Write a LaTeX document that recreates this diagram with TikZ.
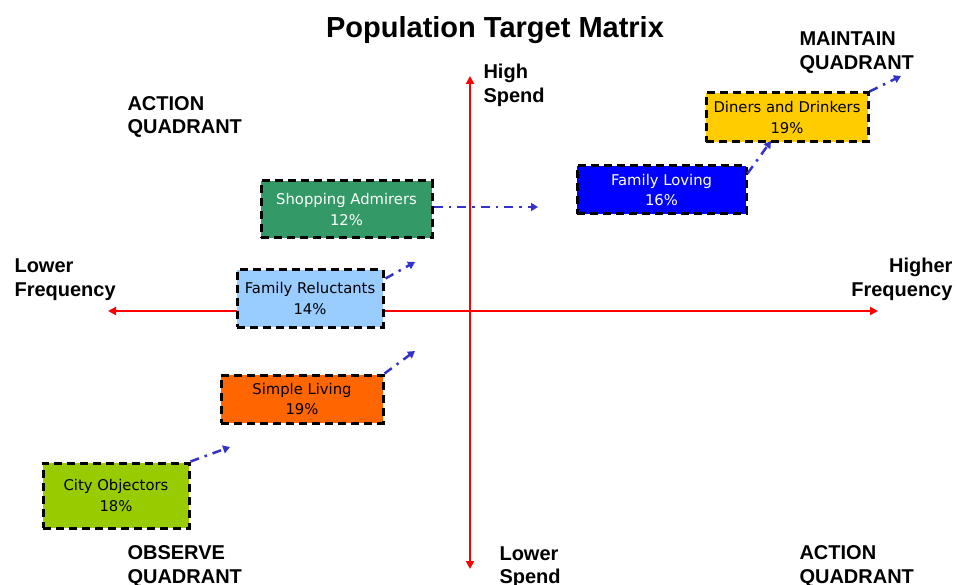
\documentclass[tikz,border=0pt]{standalone}
\usepackage{fontspec}
\usetikzlibrary{arrows.meta}
\newfontfamily\boxfont{DejaVu Sans}
\newfontfamily\labfont{Liberation Sans}
\definecolor{axisred}{RGB}{255,0,0}
\definecolor{flowblue}{RGB}{51,51,204}
\definecolor{segGreen}{RGB}{51,153,102}
\definecolor{segSky}{RGB}{153,204,255}
\definecolor{segOrange}{RGB}{255,102,0}
\definecolor{segLime}{RGB}{153,204,0}
\definecolor{segBlue}{RGB}{0,0,255}
\definecolor{segGold}{RGB}{255,204,0}
\begin{document}
\begin{tikzpicture}[x=1pt,y=-1pt,
  segment/.style={draw=black, line width=3pt, dash pattern=on 8pt off 5pt,
    inner sep=0pt, align=center, font=\boxfont\fontsize{14.8}{20.5}\selectfont},
  axis/.style={draw=axisred, line width=2.4pt, -{Triangle[length=8pt,width=8pt]}},
  flow/.style={draw=flowblue, line width=2.5pt,
    dash pattern=on 9pt off 6pt on 2.5pt off 6pt,
    -{Triangle[length=7pt,width=8pt]}},
  quad/.style={align=left, anchor=west, font=\labfont\bfseries\fontsize{20}{23.5}\selectfont},
  qright/.style={align=right, anchor=east, font=\labfont\bfseries\fontsize{20}{23.5}\selectfont}]
\useasboundingbox (0,0) rectangle (958,585);

% title
\node[font=\labfont\bfseries\fontsize{29}{32}\selectfont] (title) at (495,30) {Population Target Matrix};

% axes
\coordinate (origin) at (470,311);
\coordinate (xmin) at (108,311);
\coordinate (xmax) at (878,311);
\coordinate (ymin) at (470,569);
\coordinate (ymax) at (470,76);
\draw[axis] (origin) -- (xmin);
\draw[axis] (origin) -- (xmax);
\draw[axis] (origin) -- (ymax);
\draw[axis] (origin) -- (ymin);

% axis and quadrant labels
\node[quad] (actTL) at (124,117) {ACTION\\QUADRANT};
\node[quad] (maint) at (796,52.5) {MAINTAIN\\QUADRANT};
\node[quad] (high) at (480,85.5) {High\\Spend};
\node[quad] (lowf) at (11,279.5) {Lower\\Frequency};
\node[qright] (highf) at (956,279.5) {Higher\\Frequency};
\node[quad] (obs) at (124,566.5) {OBSERVE\\QUADRANT};
\node[quad] (lows) at (496,567) {Lower\\Spend};
\node[quad] (actBR) at (796,566.5) {ACTION\\QUADRANT};

% segments
\node[segment, fill=segGreen, text=white, minimum width=171pt, minimum height=57pt] (sa) at (346.5,209.5) {Shopping Admirers\\12\%};
\node[segment, fill=segSky, minimum width=146pt, minimum height=57pt] (fr) at (310,298.5) {Family Reluctants\\14\%};
\node[segment, fill=segOrange, minimum width=162pt, minimum height=48pt] (sl) at (302,399) {Simple Living\\19\%};
\node[segment, fill=segLime, minimum width=146pt, minimum height=65pt] (co) at (116,495.5) {City Objectors\\18\%};
\node[segment, fill=segBlue, text=white, minimum width=169pt, minimum height=48pt] (fl) at (661.5,190) {Family Loving\\16\%};
\node[segment, fill=segGold, minimum width=162pt, minimum height=49pt] (dd) at (787,117.5) {Diners and Drinkers\\19\%};

% movement arrows
\coordinate (saEnd) at (538,207);
\coordinate (frEnd) at (415,262);
\coordinate (slEnd) at (415,351);
\coordinate (coEnd) at (230,447);
\coordinate (flEnd) at (771,141);
\coordinate (ddEnd) at (901,76);
\draw[flow] (sa.east |- saEnd) -- (saEnd);
\draw[flow] ([xshift=1pt,yshift=-10pt]fr.north east) -- (frEnd);
\draw[flow] (sl.north east) -- (slEnd);
\draw[flow] (co.north east) -- (coEnd);
\draw[flow] ([yshift=-9pt]fl.north east) -- (flEnd);
\draw[flow] (dd.north east) -- (ddEnd);
\end{tikzpicture}
\end{document}
